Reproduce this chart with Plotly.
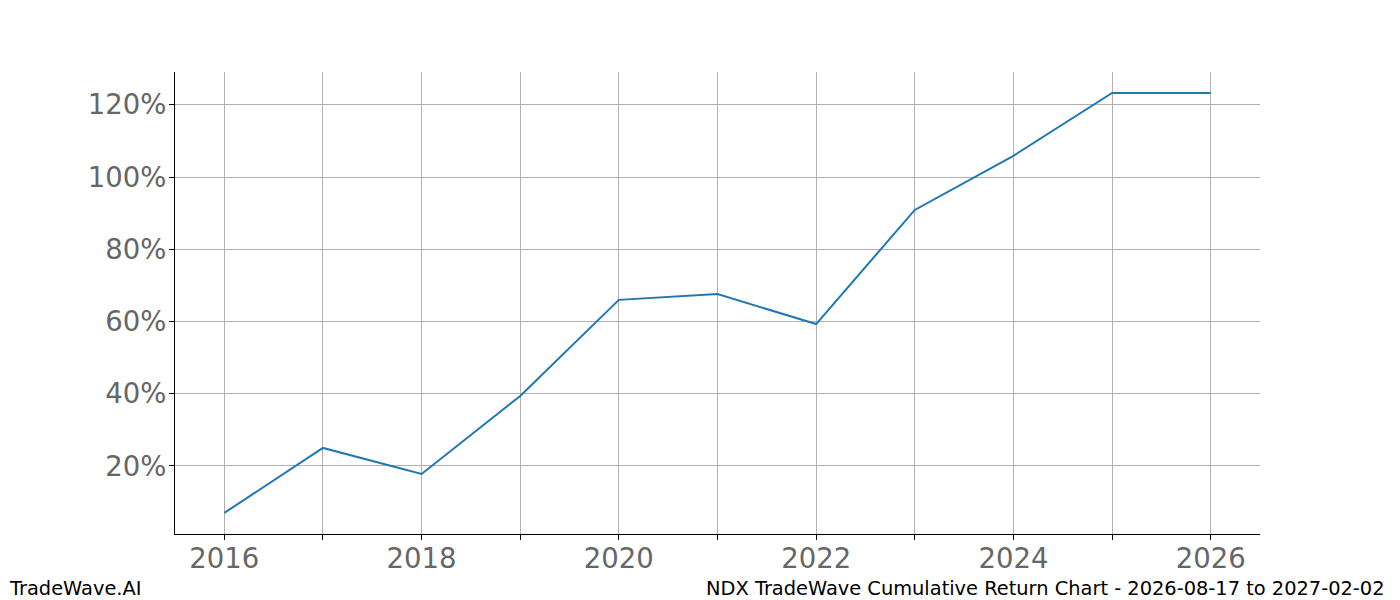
import plotly.graph_objects as go

years = [2016, 2017, 2018, 2019, 2020, 2021, 2022, 2023, 2024, 2025, 2026]
cum_return = [7.0, 25.0, 17.8, 39.4, 66.0, 67.6, 59.3, 90.9, 105.9, 123.3, 123.3]
x_tick_vals = list(range(2016, 2027))
x_tick_text = [str(y) if y % 2 == 0 else "" for y in x_tick_vals]
y_tick_vals = [20, 40, 60, 80, 100, 120]
y_tick_text = [f"{v}%" for v in y_tick_vals]

# page has an 8px body margin; figure coordinates are page - 8
L, R, T, B = 167, 1252, 64, 526
W, H = 1392, 592
PW, PH = R - L, B - T

fig = go.Figure()
fig.add_trace(go.Scatter(x=years, y=cum_return, mode="lines",
                         line=dict(color="#1f77b4", width=2), showlegend=False,
                         hoverinfo="x+y"))

fig.update_layout(
    width=W, height=H,
    paper_bgcolor="white", plot_bgcolor="white",
    margin=dict(l=L, r=W - R, t=T, b=H - B, pad=0),
    font=dict(family="DejaVu Sans"),
    xaxis=dict(range=[2015.5, 2026.5], tickvals=x_tick_vals, ticktext=x_tick_text,
               showgrid=True, gridcolor="#b0b0b0", gridwidth=0.8,
               showline=True, linecolor="black", linewidth=1.2,
               ticks="outside", ticklen=5, tickcolor="black",
               ticklabelstandoff=-5,
               tickfont=dict(size=27.5, color="#666666"), zeroline=False),
    yaxis=dict(range=[1.16, 129.1], tickvals=y_tick_vals, ticktext=y_tick_text,
               showgrid=True, gridcolor="#b0b0b0", gridwidth=0.8,
               showline=True, linecolor="black", linewidth=1.2,
               ticks="outside", ticklen=5, tickcolor="black",
               ticklabelstandoff=-3,
               tickfont=dict(size=27.5, color="#666666"), zeroline=False),
)

fy = -(580 - B) / PH
fig.add_annotation(text="TradeWave.AI", xref="paper", yref="paper",
                   x=(-1 - L) / PW, y=fy, xanchor="left", yanchor="middle",
                   showarrow=False, font=dict(size=19.4, color="black"))
fig.add_annotation(text="NDX TradeWave Cumulative Return Chart - 2026-08-17 to 2027-02-02",
                   xref="paper", yref="paper",
                   x=(1378 - L) / PW, y=fy, xanchor="right", yanchor="middle",
                   showarrow=False, font=dict(size=19.4, color="black"))

fig.write_html("out.html")
